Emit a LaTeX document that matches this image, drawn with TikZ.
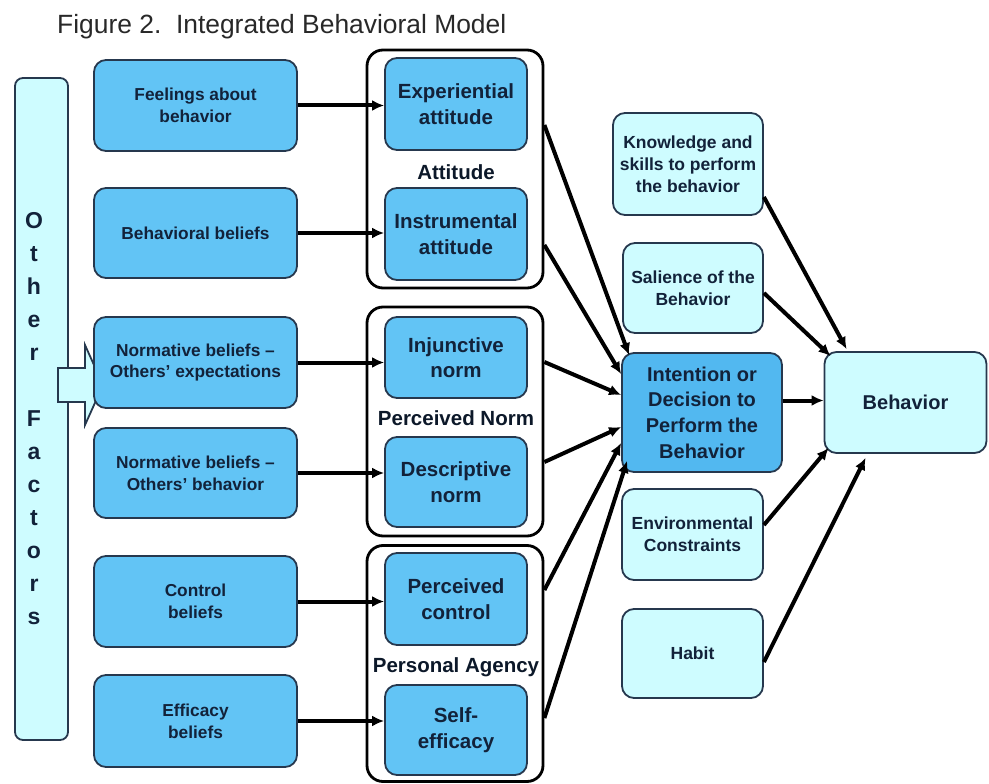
\documentclass[tikz,border=0pt]{standalone}
\usepackage{fontspec}
\setmainfont{Liberation Sans}
\usetikzlibrary{arrows.meta,calc}
\definecolor{midblue}{RGB}{98,196,245}
\definecolor{intblue}{RGB}{82,184,240}
\definecolor{paleblue}{RGB}{206,252,255}
\definecolor{edge}{RGB}{38,56,78}
\definecolor{ink}{RGB}{18,34,58}
\definecolor{titleink}{RGB}{40,40,40}
\begin{document}
\begin{tikzpicture}[x=1pt,y=-1pt,
  box/.style={draw=edge, line width=1.8pt, rounded corners=12pt, align=center, text=ink, inner sep=0pt},
  lbox/.style={box, fill=midblue, minimum width=203pt, font=\bfseries\fontsize{17.3}{21.8}\selectfont},
  ibox/.style={box, fill=midblue, minimum width=142pt, font=\bfseries\fontsize{20.5}{25.6}\selectfont},
  rbox/.style={box, fill=paleblue, font=\bfseries\fontsize{17.5}{22}\selectfont},
  group/.style={draw=black, line width=2.8pt, rounded corners=16pt, inner sep=0pt, minimum width=176pt},
  glabel/.style={font=\bfseries\fontsize{20.5}{24}\selectfont, text=ink!70!black, inner sep=0pt},
  arr/.style={line width=4pt, -{Latex[length=12pt,width=11pt]}},
]
\useasboundingbox (0,0) rectangle (989,784);

% title
\node[anchor=base west, inner sep=0pt, text=titleink, font=\fontsize{26.4}{30}\selectfont] (title) at (57,34) {Figure 2.\ \ Integrated Behavioral Model};

% other factors bar
\node[draw=edge, fill=paleblue, line width=1.8pt, rounded corners=8pt, minimum width=53pt, minimum height=662pt, inner sep=0pt] (of) at (41.5,409) {};
\node[align=center, inner sep=0pt, text=ink, font=\bfseries\fontsize{23}{33}\selectfont] (oflabel) at (34,419) {O\\t\\h\\e\\r\\[33pt]F\\a\\c\\t\\o\\r\\s};

% block arrow
\draw[draw=edge, fill=paleblue, line width=1.8pt] (58,368) -- (85,368) -- (85,345) -- (103,385) -- (85,425) -- (85,402) -- (58,402) -- cycle;

% left boxes
\node[lbox, minimum height=91pt] (fb) at (195.5,105.5) {Feelings about\\behavior};
\node[lbox, minimum height=90pt] (bb) at (195.5,233) {Behavioral beliefs};
\node[lbox, minimum height=91pt] (nb1) at (195.5,362.5) {Normative beliefs --\\Others' expectations};
\node[lbox, minimum height=90pt] (nb2) at (195.5,473) {Normative beliefs --\\Others' behavior};
\node[lbox, minimum height=91pt] (cb) at (195.5,601.5) {Control\\beliefs};
\node[lbox, minimum height=92pt] (eb) at (195.5,721) {Efficacy\\beliefs};

% groups
\node[group, minimum height=238pt] (att) at (455,169) {};
\node[group, minimum height=229pt] (norm) at (455,421.5) {};
\node[group, minimum height=236pt] (agency) at (455,663.5) {};

% inner boxes
\node[ibox, minimum height=92pt] (ea) at (456,104) {Experiential\\attitude};
\node[ibox, minimum height=92pt] (ia) at (456,234) {Instrumental\\attitude};
\node[ibox, minimum height=81pt] (inj) at (456,357.5) {Injunctive\\norm};
\node[ibox, minimum height=90pt] (desc) at (456,482) {Descriptive\\norm};
\node[ibox, minimum height=92pt] (pc) at (456,599) {Perceived\\control};
\node[ibox, minimum height=90pt] (se) at (456,730) {Self-\\efficacy};

\node[glabel] (lat) at (456,172) {Attitude};
\node[glabel] (lnorm) at (456,418) {Perceived Norm};
\node[glabel] (lag) at (456,667) {Personal Agency};

% right column
\node[box, fill=intblue, minimum width=160pt, minimum height=119pt, font=\bfseries\fontsize{20}{25.6}\selectfont] (int) at (702,412.5) {Intention or\\Decision to\\Perform the\\Behavior};
\node[box, fill=paleblue, minimum width=162pt, minimum height=101pt, font=\bfseries\fontsize{20}{24}\selectfont] (beh) at (905.5,402.5) {Behavior};
\node[rbox, minimum width=150pt, minimum height=102pt] (kn) at (688,164) {Knowledge and\\skills to perform\\the behavior};
\node[rbox, minimum width=140pt, minimum height=90pt] (sal) at (693,288) {Salience of the\\Behavior};
\node[rbox, minimum width=141pt, minimum height=91pt] (env) at (692.5,534.5) {Environmental\\Constraints};
\node[rbox, minimum width=141pt, minimum height=89pt] (hab) at (692.5,653.5) {Habit};

% left arrows
\draw[arr] (fb.east) -- (fb.east -| ea.west);
\draw[arr] (bb.east) -- (bb.east -| ia.west);
\draw[arr] (nb1.east) -- (nb1.east -| inj.west);
\draw[arr] (nb2.east) -- (nb2.east -| desc.west);
\draw[arr] (cb.east) -- (cb.east -| pc.west);
\draw[arr] (eb.east) -- (eb.east -| se.west);

% to intention
\draw[arr] ([yshift=44pt]att.east) -- ([xshift=8pt,yshift=-3pt]int.north west);
\draw[arr] ([yshift=-76pt]att.east) -- ([yshift=38.5pt]int.west);
\draw[arr] ([yshift=59.5pt]norm.east) -- ([yshift=17.5pt]int.west);
\draw[arr] ([yshift=-40.5pt]norm.east) -- ([yshift=-14.5pt]int.west);
\draw[arr] ([yshift=73.5pt]agency.east) -- ([yshift=-30.5pt]int.west);
\draw[arr] ([yshift=-54.5pt]agency.east) -- ([xshift=6pt,yshift=12pt]int.south west);

% to behavior
\draw[arr] ([yshift=12pt]int.east) -- ([yshift=12pt]int.east -| beh.west);
\draw[arr] ([yshift=-33pt]kn.east) -- ([xshift=23pt,yshift=2pt]beh.north west);
\draw[arr] ([yshift=-5pt]sal.east) -- ([xshift=7pt,yshift=-5pt]beh.north west);
\draw[arr] ([yshift=9.5pt]env.east) -- ([xshift=5pt,yshift=6pt]beh.south west);
\draw[arr] ([yshift=-8.5pt]hab.east) -- ([xshift=42pt,yshift=-4pt]beh.south west);
\end{tikzpicture}
\end{document}
